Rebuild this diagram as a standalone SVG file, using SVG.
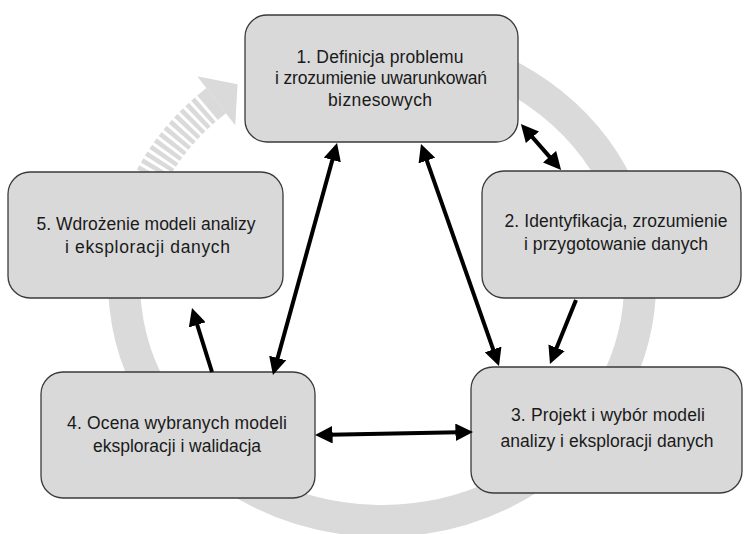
<svg xmlns="http://www.w3.org/2000/svg" width="744" height="534" viewBox="0 0 744 534">
<defs>
<style>
.box{fill:#d9d9d9;stroke:#3a3a3a;stroke-width:1.3}
.t{font-family:"Liberation Sans",Arial,sans-serif;font-size:17.5px;fill:#1a1a1a;text-anchor:middle}
.c{stroke:#000;stroke-width:4;fill:none}
.ring{fill:none;stroke:#dadada;stroke-width:32}
</style>
<marker id="ah" viewBox="0 0 10 10" refX="1.8" refY="5" markerWidth="4.4" markerHeight="4.4" orient="auto-start-reverse">
<path d="M0,0 L10,5 L0,10 z" fill="#000"/>
</marker>
</defs>
<g id="cycle">
<path class="ring" d="M315.2,53.1 A258,238 0 1 1 216.2,100.7"/>
<path d="M132.8,221.4 A258,238 0 0 1 209.4,106.1" fill="none" stroke="#fff" stroke-width="34" stroke-dasharray="3 4.5"/>
<polygon points="197.2,76.2 237.6,84.2 235.2,125.2" fill="#dadada"/>
</g>
<g id="n1"><rect class="box" x="245" y="15" width="273" height="127" rx="22"/>
<text class="t" x="380" y="63" textLength="167" lengthAdjust="spacing">1. Definicja problemu</text>
<text class="t" x="381" y="84" textLength="212" lengthAdjust="spacing">i zrozumienie uwarunkowań</text>
<text class="t" x="380" y="105.5" textLength="104" lengthAdjust="spacing">biznesowych</text></g>
<g id="n2"><rect class="box" x="482" y="171" width="259" height="127" rx="22"/>
<text class="t" x="616" y="227" textLength="223" lengthAdjust="spacing">2. Identyfikacja, zrozumienie</text>
<text class="t" x="616" y="250" textLength="184" lengthAdjust="spacing">i przygotowanie danych</text></g>
<g id="n3"><rect class="box" x="471" y="367" width="271" height="126" rx="22"/>
<text class="t" x="608" y="420.5" textLength="194" lengthAdjust="spacing">3. Projekt i wybór modeli</text>
<text class="t" x="607" y="446.5" textLength="213" lengthAdjust="spacing">analizy i eksploracji danych</text></g>
<g id="n4"><rect class="box" x="41" y="372" width="274" height="126" rx="22"/>
<text class="t" x="177" y="429" textLength="220" lengthAdjust="spacing">4. Ocena wybranych modeli</text>
<text class="t" x="177" y="452" textLength="168" lengthAdjust="spacing">eksploracji i walidacja</text></g>
<g id="n5"><rect class="box" x="8" y="172" width="275" height="126" rx="22"/>
<text class="t" x="146" y="230" textLength="219" lengthAdjust="spacing">5. Wdrożenie modeli analizy</text>
<text class="t" x="147.5" y="253" textLength="165" lengthAdjust="spacing">i eksploracji danych</text></g>
<g id="connectors">
<line class="c" x1="333.2" y1="156.9" x2="276.8" y2="361.1" marker-start="url(#ah)" marker-end="url(#ah)"/>
<line class="c" x1="425.8" y1="157.6" x2="494.2" y2="352.4" marker-start="url(#ah)" marker-end="url(#ah)"/>
<line class="c" x1="576" y1="300" x2="555.4" y2="350.7" marker-end="url(#ah)"/>
<line class="c" x1="530.4" y1="134.9" x2="551.6" y2="159.1" marker-start="url(#ah)" marker-end="url(#ah)"/>
<line class="c" x1="329.4" y1="434.7" x2="458.6" y2="432.3" marker-start="url(#ah)" marker-end="url(#ah)"/>
<line class="c" x1="212" y1="372" x2="196.3" y2="321.8" marker-end="url(#ah)"/>
</g>
</svg>
